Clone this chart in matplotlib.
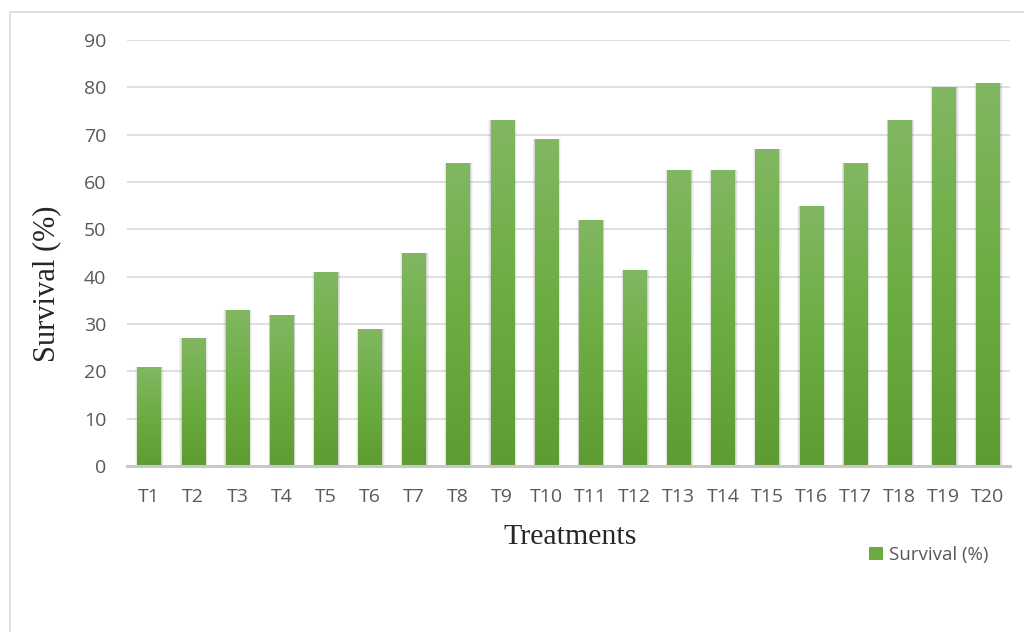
import numpy as np
import matplotlib.pyplot as plt
from matplotlib.colors import LinearSegmentedColormap
from matplotlib.patches import Rectangle

# data
treatments = ["T%d" % i for i in range(1, 21)]
survival = [21, 27, 33, 32, 41, 29, 45, 64, 73, 69,
            52, 41.5, 62.5, 62.5, 67, 55, 64, 73, 80, 81]

fig = plt.figure(figsize=(10.24, 6.32), dpi=100)
fig.patches.append(Rectangle((10 / 1024, -0.1), 1.2, 1 - 12 / 632 + 0.1,
                             transform=fig.transFigure, fill=False,
                             edgecolor="#d9d9d9", linewidth=1.2))
ax = fig.add_axes([127 / 1024, 1 - 466 / 632, 883 / 1024, 426 / 632])

x = np.arange(len(treatments))
w = 0.53
green = LinearSegmentedColormap.from_list("g", ["#5d9c31", "#6cad42", "#81b762"])
grad = np.linspace(0, 1, 256).reshape(-1, 1)

# soft shadow behind bars
for off, a in [(0.12, 0.07), (0.08, 0.12), (0.04, 0.2)]:
    ax.bar(x + 0.01, survival, width=w + off, color="#7f7f7f", alpha=a,
           zorder=2, linewidth=0)

bars = ax.bar(x, survival, width=w, color="#6aab3f", zorder=3, linewidth=0,
              label="Survival (%)")
for b in bars:
    x0, y0 = b.get_x(), b.get_y()
    im = ax.imshow(grad, cmap=green, origin="lower", aspect="auto",
                   extent=[x0, x0 + b.get_width(), y0, y0 + b.get_height()],
                   zorder=4)
    im.set_clip_path(b)

ax.set_xlim(-0.5, len(treatments) - 0.5)
ax.set_ylim(0, 90)
ax.set_yticks(np.arange(0, 91, 10))
ax.set_xticks(x)
ax.set_xticklabels(treatments)
ax.yaxis.grid(True, color="#d9d9d9", linewidth=1.2, zorder=0)
ax.set_axisbelow(True)
for s in ["top", "right", "left"]:
    ax.spines[s].set_visible(False)
ax.spines["bottom"].set_color("#c8c8c8")
ax.spines["bottom"].set_linewidth(2.2)
ax.spines["bottom"].set_zorder(5)
ax.tick_params(length=0, labelsize=14, labelcolor="#595959")
for lab in ax.get_xticklabels() + ax.get_yticklabels():
    lab.set_family("Open Sans")
ax.tick_params(axis="y", pad=15)
ax.tick_params(axis="x", pad=16)

ax.set_ylabel("Survival (%)", family="Liberation Serif", fontsize=22,
              color="#262626")
ax.yaxis.set_label_coords(-0.075, 0.427)
ax.set_xlabel("Treatments", family="Liberation Serif", fontsize=21.5,
              color="#262626")
ax.xaxis.set_label_coords(0.502, -0.137)

leg = ax.legend(loc="center left", bbox_to_anchor=(852 / 1024, 1 - 555 / 632),
                bbox_transform=fig.transFigure, frameon=False,
                prop={"family": "Open Sans", "size": 13.5},
                handlelength=0.75, handleheight=0.75, handletextpad=0.3)
for t in leg.get_texts():
    t.set_color("#595959")
leg.legend_handles[0].set_color("#6aab3f")

fig.savefig("out.png", dpi=100)
